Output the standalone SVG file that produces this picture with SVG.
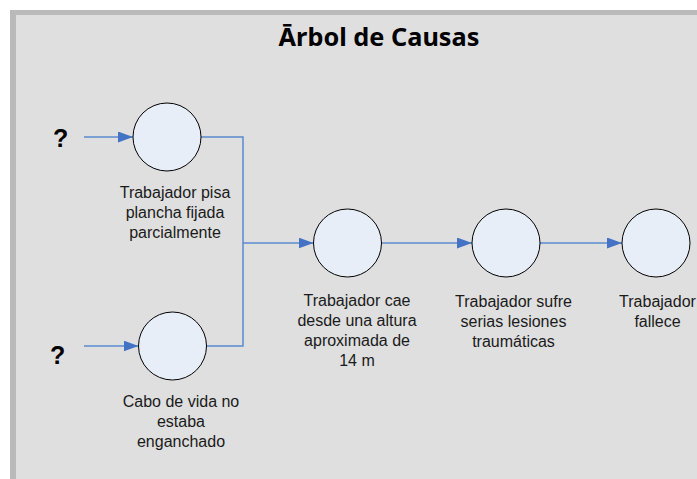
<svg xmlns="http://www.w3.org/2000/svg" width="697" height="479" viewBox="0 0 697 479">
  <defs>
    <marker id="arrow" markerUnits="userSpaceOnUse" markerWidth="15" markerHeight="11" refX="15" refY="5.5" orient="auto">
      <path d="M0,0 L15,5.5 L0,11 z" fill="#4472c4"/>
    </marker>
    <style>
      .node circle { fill: #e8eef8; stroke: #000; stroke-width: 1; }
      .lbl { font-family: "Liberation Sans", Arial, sans-serif; font-size: 16px; fill: #1a1a1a; text-anchor: middle; }
      .q { font-family: "Liberation Sans", Arial, sans-serif; font-size: 25px; font-weight: bold; fill: #000; }
      .conn path { fill: none; stroke: #5b8ad0; stroke-width: 1.5; }
      .title { font-family: "Noto Sans", "Open Sans", sans-serif; font-size: 25.3px; font-weight: bold; fill: #000; text-anchor: middle; }
    </style>
  </defs>
  <rect x="0" y="0" width="697" height="479" fill="#ffffff"/>
  <rect x="10" y="10" width="700" height="480" fill="#dfdfdf"/>
  <rect x="10" y="10" width="700" height="5" fill="#bababa"/>
  <rect x="10" y="10" width="6" height="480" fill="#bababa"/>

  <text class="title" x="379" y="46">Ārbol de Causas</text>

  <text class="q" x="53" y="147">?</text>
  <text class="q" x="50" y="364">?</text>

  <g id="connectors" class="conn">
    <path d="M84,137 H133" marker-end="url(#arrow)"/>
    <path d="M84,346 H138.5" marker-end="url(#arrow)"/>
    <path d="M201,137 H243 V243"/>
    <path d="M206.5,346 H243 V243"/>
    <path d="M243,243 H313.5" marker-end="url(#arrow)"/>
    <path d="M381.5,243 H472" marker-end="url(#arrow)"/>
    <path d="M540,243 H622" marker-end="url(#arrow)"/>
  </g>

  <g id="node1" class="node">
    <circle cx="167" cy="137" r="34"/>
    <text class="lbl" x="175" y="198">Trabajador pisa</text>
    <text class="lbl" x="175" y="218">plancha fijada</text>
    <text class="lbl" x="175" y="238">parcialmente</text>
  </g>
  <g id="node2" class="node">
    <circle cx="172.5" cy="346" r="34"/>
    <text class="lbl" x="181" y="407">Cabo de vida no</text>
    <text class="lbl" x="181" y="427">estaba</text>
    <text class="lbl" x="181" y="447">enganchado</text>
  </g>
  <g id="node3" class="node">
    <circle cx="347.5" cy="243" r="34"/>
    <text class="lbl" x="357" y="306">Trabajador cae</text>
    <text class="lbl" x="357" y="326">desde una altura</text>
    <text class="lbl" x="357" y="346">aproximada de</text>
    <text class="lbl" x="357" y="366">14 m</text>
  </g>
  <g id="node4" class="node">
    <circle cx="506" cy="243" r="34"/>
    <text class="lbl" x="513.5" y="307">Trabajador sufre</text>
    <text class="lbl" x="513.5" y="327">serias lesiones</text>
    <text class="lbl" x="513.5" y="347">traumáticas</text>
  </g>
  <g id="node5" class="node">
    <circle cx="656" cy="243" r="34"/>
    <text class="lbl" x="657.5" y="307">Trabajador</text>
    <text class="lbl" x="657.5" y="327">fallece</text>
  </g>
</svg>
